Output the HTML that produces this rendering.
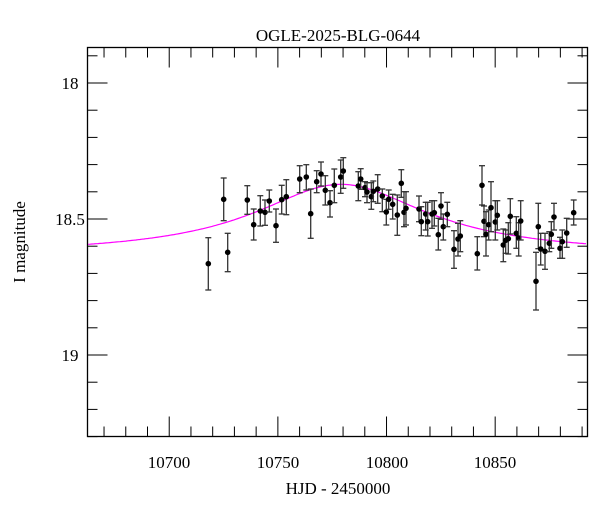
<!DOCTYPE html>
<html><head><style>body{margin:0;background:#fff}svg{display:block}text{font-family:"Liberation Serif",serif;fill:#000}</style></head>
<body>
<svg id="s" width="600" height="512" xmlns="http://www.w3.org/2000/svg">
<rect x="87.5" y="47.5" width="500" height="389" fill="none" stroke="#000" stroke-width="1.3"/>
<text x="338" y="41" font-size="17" text-anchor="middle">OGLE-2025-BLG-0644</text>
<text x="338" y="494" font-size="17" text-anchor="middle">HJD - 2450000</text>
<text transform="translate(25,242) rotate(-90)" font-size="17" text-anchor="middle">I magnitude</text>
<text x="169" y="468" font-size="17" text-anchor="middle">10700</text>
<text x="278" y="468" font-size="17" text-anchor="middle">10750</text>
<text x="387" y="468" font-size="17" text-anchor="middle">10800</text>
<text x="495" y="468" font-size="17" text-anchor="middle">10850</text>
<text x="70" y="89" font-size="17" text-anchor="middle">18</text>
<text x="70" y="225" font-size="17" text-anchor="middle">18.5</text>
<text x="70" y="361" font-size="17" text-anchor="middle">19</text>
<g id="ax" stroke="#000" stroke-width="1"></g>
<path id="curve" fill="none" stroke="#f0f" stroke-width="1.2"/>
<g id="pts"></g>
</svg>
<script>
var NS="http://www.w3.org/2000/svg",ax=document.getElementById('ax'),pts=document.getElementById('pts');
function ln(g,x1,y1,x2,y2,c,w){var l=document.createElementNS(NS,'line');l.setAttribute('x1',x1);l.setAttribute('y1',y1);l.setAttribute('x2',x2);l.setAttribute('y2',y2);l.setAttribute('stroke',c||'#000');l.setAttribute('stroke-width',w||1);g.appendChild(l);}
function X(t){return 87.3+(t-10662.3)*2.173;}
function Y(m){return 83+(m-18)*272;}
for(var t=10670;t<=10890;t+=10){var x=X(t),maj=(t%50==0);ln(ax,x,436.5,x,436.5-(maj?20:10));ln(ax,x,47.5,x,47.5+(maj?20:10));}
for(var i=0;i<=14;i++){var m=17.9+i*0.1,y=Y(m);if(y<47||y>437)continue;var maj=Math.abs(m*2-Math.round(m*2))<1e-6;ln(ax,87.5,y,87.5+(maj?20:10),y);ln(ax,587.5,y,587.5-(maj?20:10),y);}
var d="";for(var x=88;x<=587;x+=2){var t=10662.3+(x-87.3)/2.173,dt=t-10779;var f=1+0.27/(1+(dt/46)*(dt/46));var y=Y(18.632-2.5*Math.log10(f));d+=(d?"L":"M")+x+" "+y.toFixed(1);}
document.getElementById('curve').setAttribute('d',d);
var P=[[208.3,263.7,237.7,290],[223.7,199.3,178,220.7],[227.7,252.3,233.3,271.7],[247.3,200,185.7,214.3],[253.7,224.7,209,240],[260.3,211,195.7,226],[265,212.3,200,225.3],[269.3,201,190,212],[276,225.7,209,242.3],[281.7,199.7,185.3,214],[286.3,196.7,179.7,214.7],[299.7,179,165.7,192.7],[306.3,177,164.7,190],[310.7,213.7,189,238.3],[316.7,181.7,170.7,192.7],[321,174,162,186],[325.3,190.3,175.7,205],[330,202.7,190.7,217],[334.3,185.3,169,202.7],[340.7,177,160,193.3],[343.3,171,157.7,188.3],[358.3,186,171.7,200.7],[360.7,179,168.7,189.3],[365,187.7,181.7,196.7],[367,192,182.7,202.7],[371.3,196.7,182.7,209.3],[373.3,191.3,181,201.7],[377.7,189,174.7,203.3],[382.3,196,189,211.7],[386.3,212,199.3,225],[388.7,199.3,190,209.3],[392.7,204.3,194.3,219],[397.3,215,195,235.3],[401.3,183.3,169.7,197.3],[404,212.3,191.7,226.7],[406,208.3,191.7,225],[419,209,196,221.7],[421.3,221.7,206.7,235.7],[425.7,214,202.3,230],[427.7,221.7,202.3,236],[432,214,200.7,228.3],[434.3,212.7,200.7,226],[438.3,234.7,218.3,250],[441,206,192.7,219.3],[443.3,226.7,214,240],[447.3,214.3,202.3,226.7],[454,249.3,230.7,268.3],[458,239,223.3,256],[460.3,236,220.7,251.7],[477.3,253.7,236.7,270],[482,185.3,165.7,205],[484,221.3,206,236.7],[486,234.3,211.7,256],[488.7,224.7,210,240],[491,207.7,181.7,231.7],[495.3,222,200.7,240],[497.3,215.3,200.7,230],[503.3,245,229,261.7],[505.7,240.3,230,253.3],[508.3,238.7,222.7,254],[510.3,216.3,198.7,234],[516.3,233.3,216.7,248.3],[518.7,238,222.7,256],[520.7,221,200.7,240],[536,281.3,252.3,310],[538.3,226.7,203.3,248.7],[540.7,249,233.3,265],[545,251.3,233.3,269.3],[549.3,243.3,231.7,251.7],[551.3,234.3,221.7,248.3],[554,217,203.3,230],[560,248.3,237.3,258.3],[562.3,241.7,230,258.3],[566.7,233,218.3,247.3],[573.7,212.7,200,225]];
P.forEach(function(p){ln(pts,p[0],p[2],p[0],p[3],'#333',1.3);ln(pts,p[0]-3,p[2],p[0]+3,p[2],'#333',1.3);ln(pts,p[0]-3,p[3],p[0]+3,p[3],'#333',1.3);var c=document.createElementNS(NS,'circle');c.setAttribute('cx',p[0]);c.setAttribute('cy',p[1]);c.setAttribute('r',2.8);c.setAttribute('fill','#000');pts.appendChild(c);});
</script>
</body></html>
